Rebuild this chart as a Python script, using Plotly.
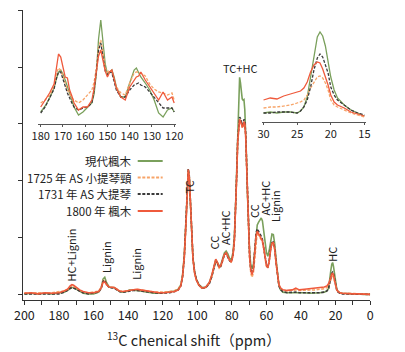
import plotly.graph_objects as go

# ---------------- data ----------------
shift_ppm = [200, 196, 192, 188, 184, 180, 177, 175, 173.5, 172.5, 171.5, 170, 168, 166, 163, 160, 157,
             155.5, 154.5, 153.5, 152.5, 151, 149.5, 148, 146.5, 145, 143, 141, 139, 137, 135, 133, 131,
             128, 125, 122, 119, 116, 113, 111, 109.5, 108.5, 107.5, 106.5, 105.8, 105.2, 104.6, 104,
             103.3, 102.5, 101.5, 100.5, 99, 97, 95, 93, 91.5, 90.3, 89.3, 88.3, 87.3, 86.3, 85.3, 84.3,
             83.3, 82.3, 81.3, 80.3, 79.3, 78.5, 77.8, 77.2, 76.6, 76, 75.5, 75, 74.5, 74, 73.5, 73, 72.5,
             72, 71.5, 71, 70.4, 69.7, 69, 68.3, 67.5, 66.7, 66, 65.3, 64.5, 63.7, 63, 62.3, 61.5, 60.7,
             60, 59.2, 58.4, 57.6, 56.8, 56, 55.2, 54.4, 53.6, 52.8, 52, 50.5, 48, 45, 43, 41, 38, 35, 32,
             29, 26.5, 25, 24, 23.3, 22.7, 22.2, 21.7, 21.2, 20.6, 20, 19.3, 18.5, 17.5, 16, 13, 10, 7, 4, 0]

modern = [.02, .03, .02, .03, .02, .03, .05, .08, .12, .13, .13, .10, .06, .03, .02, .02, .05,
          .13, .28, .31, .22, .14, .13, .13, .10, .06, .05, .06, .09, .09, .08, .07, .06,
          .04, .03, .03, .04, .05, .07, .10, .18, .35, .70, 1.30, 1.90, 2.17, 2.05, 1.65,
          1.10, .65, .40, .28, .18, .13, .14, .22, .35, .52, .62, .57, .50, .54, .65, .74,
          .77, .72, .64, .62, .75, 1.05, 1.60, 2.30, 3.00, 3.55, 3.82, 3.72, 3.55, 3.44, 3.42, 3.43, 3.25,
          2.90, 2.40, 1.80, 1.20, .75, .52, .46, .55, .82, 1.10, 1.23, 1.28, 1.33, 1.35, 1.30, 1.15, .92,
          .75, .68, .78, .95, 1.07, 1.06, .90, .62, .35, .18, .10, .05, .04, .04, .05, .04, .04, .03, .03,
          .04, .05, .07, .12, .25, .44, .54, .57, .50, .35, .20, .10, .06, .04, .03, .02, .02, .02, .01, .01]

violin_1725 = [.04, .03, .04, .03, .04, .05, .07, .10, .14, .15, .14, .11, .07, .05, .04, .05, .07,
               .14, .25, .27, .20, .14, .13, .13, .10, .07, .06, .07, .09, .10, .10, .09, .08,
               .06, .05, .05, .05, .06, .08, .11, .18, .34, .68, 1.28, 1.92, 2.20, 2.08, 1.66,
               1.10, .64, .38, .26, .16, .11, .13, .20, .33, .50, .60, .54, .47, .50, .61, .70,
               .73, .67, .60, .58, .70, .98, 1.48, 2.10, 2.70, 3.00, 3.08, 3.06, 3.00, 2.94, 2.96, 3.05, 3.02,
               2.80, 2.32, 1.74, 1.12, .64, .38, .31, .40, .70, .98, 1.10, 1.05, 1.00, .98, .93, .80, .63,
               .50, .47, .58, .78, .90, .92, .80, .55, .32, .18, .12, .08, .07, .08, .09, .08, .08, .08, .09,
               .10, .11, .13, .16, .21, .28, .32, .33, .31, .24, .15, .09, .06, .04, .03, .03, .02, .02, .02, .01]

cello_1731 = [.02, .02, .03, .02, .03, .02, .05, .08, .12, .13, .12, .10, .06, .04, .02, .03, .05,
              .12, .24, .26, .19, .13, .13, .12, .09, .06, .05, .06, .08, .08, .08, .07, .06,
              .05, .04, .03, .03, .04, .06, .09, .16, .32, .66, 1.27, 1.93, 2.21, 2.09, 1.68,
              1.12, .65, .40, .27, .17, .12, .13, .20, .33, .50, .60, .55, .48, .51, .62, .71,
              .73, .67, .60, .58, .70, .98, 1.48, 2.10, 2.72, 3.05, 3.12, 3.10, 3.03, 2.98, 3.00, 3.08, 3.06,
              2.84, 2.36, 1.77, 1.15, .68, .44, .38, .47, .80, 1.08, 1.16, 1.12, 1.06, 1.03, .97, .84, .67,
              .53, .48, .60, .80, .92, .93, .82, .57, .33, .17, .10, .06, .04, .05, .05, .04, .04, .04, .03,
              .04, .05, .07, .12, .20, .32, .38, .40, .37, .28, .17, .09, .05, .03, .02, .02, .02, .01, .01, .01]

maple_1800 = [.03, .04, .02, .04, .03, .04, .07, .10, .16, .18, .17, .13, .09, .06, .04, .04, .06,
              .13, .22, .23, .18, .14, .13, .13, .10, .07, .06, .07, .09, .10, .10, .09, .08,
              .06, .05, .04, .04, .05, .06, .09, .16, .32, .66, 1.26, 1.92, 2.20, 2.07, 1.66,
              1.10, .64, .38, .26, .17, .12, .14, .22, .36, .53, .63, .57, .49, .52, .63, .71,
              .74, .68, .61, .58, .70, .97, 1.47, 2.08, 2.68, 3.00, 3.08, 3.05, 3.00, 2.95, 2.96, 3.04, 3.00,
              2.80, 2.33, 1.75, 1.13, .66, .42, .36, .45, .76, 1.03, 1.12, 1.08, 1.02, 1.00, .95, .82, .65,
              .52, .48, .59, .79, .91, .92, .80, .56, .33, .19, .13, .09, .08, .09, .12, .09, .10, .11, .11,
              .12, .14, .16, .20, .26, .33, .37, .38, .35, .26, .16, .09, .06, .04, .03, .02, .02, .02, .02, .01]

# inset 1 (aromatic / carbonyl region)
inset1_ppm = [180, 178, 176, 174, 173, 172, 171, 170, 169, 168, 167, 166, 165, 163, 161, 159, 157, 156, 155,
              154, 153, 152, 151, 150, 149, 148, 147, 146, 144, 142, 140, 138, 137, 136, 135, 133, 131, 129,
              127, 125, 123, 121, 120]
inset1_modern = [12, 18, 26, 36, 45, 52, 54, 50, 44, 38, 31, 24, 17, 9, 12, 16, 21, 30, 50,
                 85, 104, 82, 60, 50, 52, 54, 47, 37, 27, 27, 41, 54, 56, 52, 47, 41, 34, 24,
                 11, 7, 14, 16, 12]
inset1_1725 = [21, 24, 29, 37, 50, 56, 54, 47, 41, 34, 30, 26, 24, 21, 24, 29, 34, 42, 56,
               76, 84, 72, 56, 52, 54, 52, 44, 37, 31, 29, 41, 51, 52, 52, 51, 48, 40, 35,
               32, 31, 29, 31, 24]
inset1_1731 = [11, 17, 26, 35, 45, 52, 52, 44, 38, 31, 25, 21, 17, 14, 16, 17, 21, 34, 52,
               74, 81, 68, 53, 49, 52, 51, 42, 34, 27, 27, 34, 39, 40, 41, 39, 37, 32, 27,
               21, 16, 16, 16, 12]
inset1_1800 = [17, 24, 31, 40, 55, 70, 67, 57, 47, 46, 34, 28, 21, 14, 17, 17, 24, 36, 50,
               68, 74, 64, 53, 47, 52, 54, 44, 36, 27, 24, 37, 44, 47, 48, 52, 44, 37, 31,
               24, 32, 24, 27, 21]

# inset 2 (methyl region)
inset2_ppm = [30, 29, 28, 27, 26, 25, 24.5, 24, 23.5, 23, 22.5, 22, 21.6, 21.2, 20.8, 20.4, 20, 19.5, 19,
              18, 17, 16, 15]
inset2_modern = [9, 10, 9, 10, 10, 9, 11, 15, 25, 45, 65, 85, 90, 86, 76, 61, 45, 32, 24, 17, 12, 9, 6]
inset2_1725 = [14, 15, 15, 16, 17, 19, 20, 22, 27, 34, 40, 45, 46, 44, 39, 32, 22, 17, 15, 12, 9, 7, 5]
inset2_1731 = [9, 9, 10, 10, 10, 9, 11, 15, 22, 35, 52, 64, 68, 65, 58, 49, 35, 27, 22, 17, 12, 9, 7]
inset2_1800 = [22, 24, 23, 26, 28, 30, 31, 34, 40, 50, 57, 60, 59, 53, 46, 37, 27, 20, 17, 14, 10, 8, 6]

series_names = ["現代楓木", "1725 年 AS 小提琴頸", "1731 年 AS 大提琴", "1800 年 楓木"]
main_tick_vals = [200, 180, 160, 140, 120, 100, 80, 60, 40, 20, 0]
inset1_ticks = [180, 170, 160, 150, 140, 130, 120]
inset2_ticks = [30, 25, 20, 15]

peak_labels = ["HC+Lignin", "Lignin", "Lignin", "TC", "CC", "AC+HC", "CC", "AC+HC", "Lignin", "HC"]
peak_label_ppm = [172.8, 152.8, 135.6, 105.0, 90.6, 83.9, 67.2, 61.1, 55.0, 22.2]
title_label = "TC+HC"
title_label_ppm = 75.0

# ---------------- styling ----------------
W, H = 405, 352
FONT = "'Noto Sans CJK TC', 'Noto Sans', sans-serif"
colors = ["#7aa05c", "#f7a468", "#3a3a3a", "#ef5a3c"]
dashes = ["solid", "3px,1.6px", "3px,1.6px", "solid"]


def fx(p):
    return p / W


def fy(p):
    return 1 - p / H


fig = go.Figure()

main_sets = [modern, violin_1725, cello_1731, maple_1800]
in1_sets = [inset1_modern, inset1_1725, inset1_1731, inset1_1800]
in2_sets = [inset2_modern, inset2_1725, inset2_1731, inset2_1800]

for i in range(4):
    fig.add_trace(go.Scatter(x=shift_ppm, y=main_sets[i], mode="lines", name=series_names[i],
                             line=dict(color=colors[i], width=1.6, dash=dashes[i]),
                             xaxis="x", yaxis="y", showlegend=False))
for i in range(4):
    fig.add_trace(go.Scatter(x=inset1_ppm, y=in1_sets[i], mode="lines", name=series_names[i],
                             line=dict(color=colors[i], width=1.3, dash=dashes[i]),
                             xaxis="x2", yaxis="y2", showlegend=False))
for i in range(4):
    fig.add_trace(go.Scatter(x=inset2_ppm, y=in2_sets[i], mode="lines", name=series_names[i],
                             line=dict(color=colors[i], width=1.3, dash=dashes[i]),
                             xaxis="x3", yaxis="y3", showlegend=False))

axis_col = "#333333"
fig.update_layout(
    width=W, height=H, autosize=False,
    margin=dict(l=0, r=0, t=0, b=0),
    paper_bgcolor="white", plot_bgcolor="rgba(0,0,0,0)",
    font=dict(family=FONT, color="#222222"),
    xaxis=dict(domain=[fx(14.2), fx(376)], range=[201, 0], anchor="y",
               showline=True, linecolor=axis_col, linewidth=1.2,
               tickmode="array", tickvals=main_tick_vals, ticks="outside", ticklen=4,
               tickcolor=axis_col, tickwidth=1.2,
               minor=dict(tickmode="linear", tick0=0, dtick=10, ticks="outside", ticklen=4,
                          tickcolor=axis_col, tickwidth=1.2),
               tickfont=dict(size=12.5, color="#222222"), showgrid=False, zeroline=False),
    yaxis=dict(domain=[fy(300), fy(10)], range=[-0.088, 5.0], anchor="x",
               showline=True, linecolor=axis_col, linewidth=1.2,
               tickmode="linear", tick0=0, dtick=1, ticks="outside", ticklen=4,
               tickcolor=axis_col, tickwidth=1.2,
               showticklabels=False, showgrid=False, zeroline=False),
    xaxis2=dict(domain=[fx(30.7), fx(174.3)], range=[181, 119], anchor="y2",
                showline=True, linecolor="#555555", linewidth=1,
                tickmode="array", tickvals=inset1_ticks, ticks="outside", ticklen=2,
                tickcolor="#555555", tickfont=dict(size=11, color="#222222"),
                showgrid=False, zeroline=False),
    yaxis2=dict(domain=[fy(124), fy(12)], range=[0, 112], anchor="x2", visible=False),
    xaxis3=dict(domain=[fx(262.9), fx(372.1)], range=[30.3, 14.7], anchor="y3",
                showline=True, linecolor="#555555", linewidth=1,
                tickmode="array", tickvals=inset2_ticks, ticks="outside", ticklen=2,
                tickcolor="#555555", tickfont=dict(size=11, color="#222222"),
                showgrid=False, zeroline=False),
    yaxis3=dict(domain=[fy(122), fy(22)], range=[0, 100], anchor="x3", visible=False),
)

annotations = []
# rotated peak labels (pixel centres)
label_y_px = [255, 257, 264, 187, 243, 228, 211, 198, 206, 254]
for txt, ppm, ypx in zip(peak_labels, peak_label_ppm, label_y_px):
    annotations.append(dict(text=txt, x=ppm, y=fy(ypx), xref="x", yref="paper",
                            textangle=-90, showarrow=False, xanchor="center", yanchor="middle",
                            font=dict(size=11, color="#222222")))
annotations.append(dict(text=title_label, x=title_label_ppm, y=fy(68), xref="x", yref="paper",
                        showarrow=False, xanchor="center", yanchor="middle",
                        font=dict(size=11, color="#222222")))
# axis title
annotations.append(dict(text="<sup>13</sup>C chenical shift（ppm）", x=fx(193), y=fy(339),
                        xref="paper", yref="paper", showarrow=False,
                        xanchor="center", yanchor="middle", font=dict(size=14.5, color="#222222")))

# hand-made legend: text on the left, line sample on the right
legend_rows_px = [161, 177.5, 194, 211]
shapes = []
for i in range(4):
    annotations.append(dict(text=series_names[i], x=fx(130), y=fy(legend_rows_px[i]),
                            xref="paper", yref="paper", showarrow=False,
                            xanchor="right", yanchor="middle",
                            font=dict(size=11.5, color="#222222")))
    shapes.append(dict(type="line", xref="paper", yref="paper",
                       x0=fx(134), x1=fx(160), y0=fy(legend_rows_px[i]), y1=fy(legend_rows_px[i]),
                       line=dict(color=colors[i], width=2, dash=dashes[i])))

fig.update_layout(annotations=annotations, shapes=shapes)

fig.write_html("out.html")
